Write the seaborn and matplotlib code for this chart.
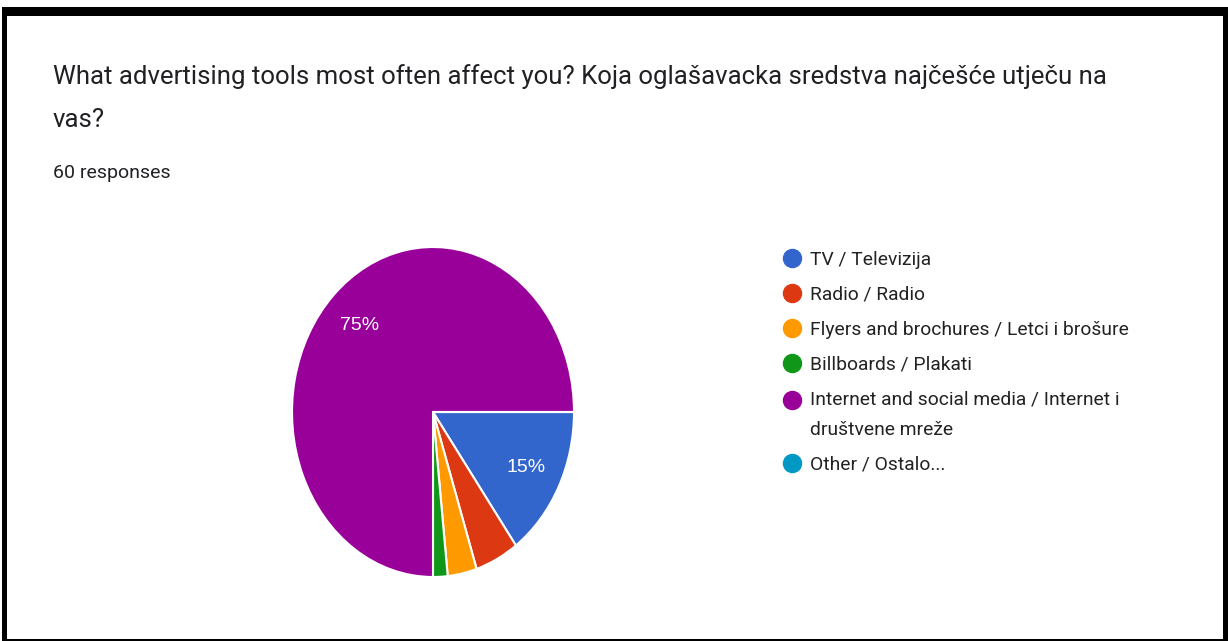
import numpy as np
import matplotlib
matplotlib.use("Agg")
import matplotlib.pyplot as plt
from matplotlib.lines import Line2D
from matplotlib.patches import Rectangle
from matplotlib.legend_handler import HandlerLine2D
import seaborn as sns

# data (60 responses)
categories = [
    "TV / Televizija",
    "Radio / Radio",
    "Flyers and brochures / Letci i brošure",
    "Billboards / Plakati",
    "Internet and social media / Internet i\ndruštvene mreže",
    "Other / Ostalo...",
]
counts = [9, 3, 2, 1, 45, 0]
colors = ["#3366CC", "#DC3912", "#FF9900", "#109618", "#990099", "#0099C6"]
title_lines = [
    "What advertising tools most often affect you? Koja oglašavacka sredstva najčešće utječu na",
    "vas?",
]
subtitle = "60 responses"

W, H = 1228, 641


def fx(px):
    return px / W


def fy(py):
    return 1 - py / H


class TopLineHandler(HandlerLine2D):
    """Keeps the legend dot on the first line of a wrapped label."""

    def __init__(self, shift, **kw):
        super().__init__(**kw)
        self.shift = shift

    def create_artists(self, legend, orig_handle, xdescent, ydescent,
                       width, height, fontsize, trans):
        artists = super().create_artists(legend, orig_handle, xdescent, ydescent,
                                         width, height, fontsize, trans)
        for a in artists:
            a.set_ydata(np.asarray(a.get_ydata(), dtype=float) + self.shift)
        return artists


sns.set_theme(style="white")
plt.rcParams["font.family"] = ["Roboto", "DejaVu Sans"]

fig = plt.figure(figsize=(W / 100, H / 100), dpi=100)
fig.patch.set_facecolor("white")

# screenshot frame
fig.add_artist(Rectangle((fx(2), fy(641)), fx(1228) - fx(2), fy(7) - fy(641),
                         transform=fig.transFigure, facecolor="black",
                         edgecolor="none", zorder=-2))
fig.add_artist(Rectangle((fx(7), fy(639)), fx(1223) - fx(7), fy(16) - fy(639),
                         transform=fig.transFigure, facecolor="white",
                         edgecolor="none", zorder=-1))

# titles
fig.text(fx(53), fy(84), title_lines[0], fontsize=18.5, color="#202124", va="baseline")
fig.text(fx(53), fy(127), title_lines[1], fontsize=18.5, color="#202124", va="baseline")
fig.text(fx(53), fy(178), subtitle, fontsize=14, color="#202124", va="baseline")

# pie (slightly squashed like the screenshot)
ax = fig.add_axes([fx(292), fy(577), fx(574) - fx(292), fy(247) - fy(577)], zorder=2)


def pct_label(p):
    return f"{p:.0f}%" if p >= 10 else ""


wedges, texts, autotexts = ax.pie(
    counts,
    colors=colors,
    startangle=0,
    counterclock=False,
    autopct=pct_label,
    pctdistance=0.74,
    radius=1.0,
    wedgeprops=dict(edgecolor="white", linewidth=1.5),
    textprops=dict(color="white", fontsize=14, family=["Liberation Sans", "DejaVu Sans"]),
)
ax.set_aspect("auto")
ax.set_xlim(-1, 1)
ax.set_ylim(-1, 1)
ax.axis("off")

# legend
handles = [Line2D([], [], marker="o", linestyle="none", markersize=13,
                  markerfacecolor=c, markeredgecolor=c) for c in colors]
handler_map = {handles[4]: TopLineHandler(shift=10.8)}
leg = fig.legend(
    handles, categories,
    loc="upper left",
    bbox_to_anchor=(fx(783), fy(251)),
    frameon=False,
    fontsize=13.9,
    handlelength=0.93,
    handletextpad=0.47,
    labelspacing=0.87,
    borderpad=0,
    borderaxespad=0,
    handler_map=handler_map,
)
for t in leg.get_texts():
    t.set_color("#222222")
    t.set_linespacing(1.89)

fig.savefig("out.png", dpi=100)
